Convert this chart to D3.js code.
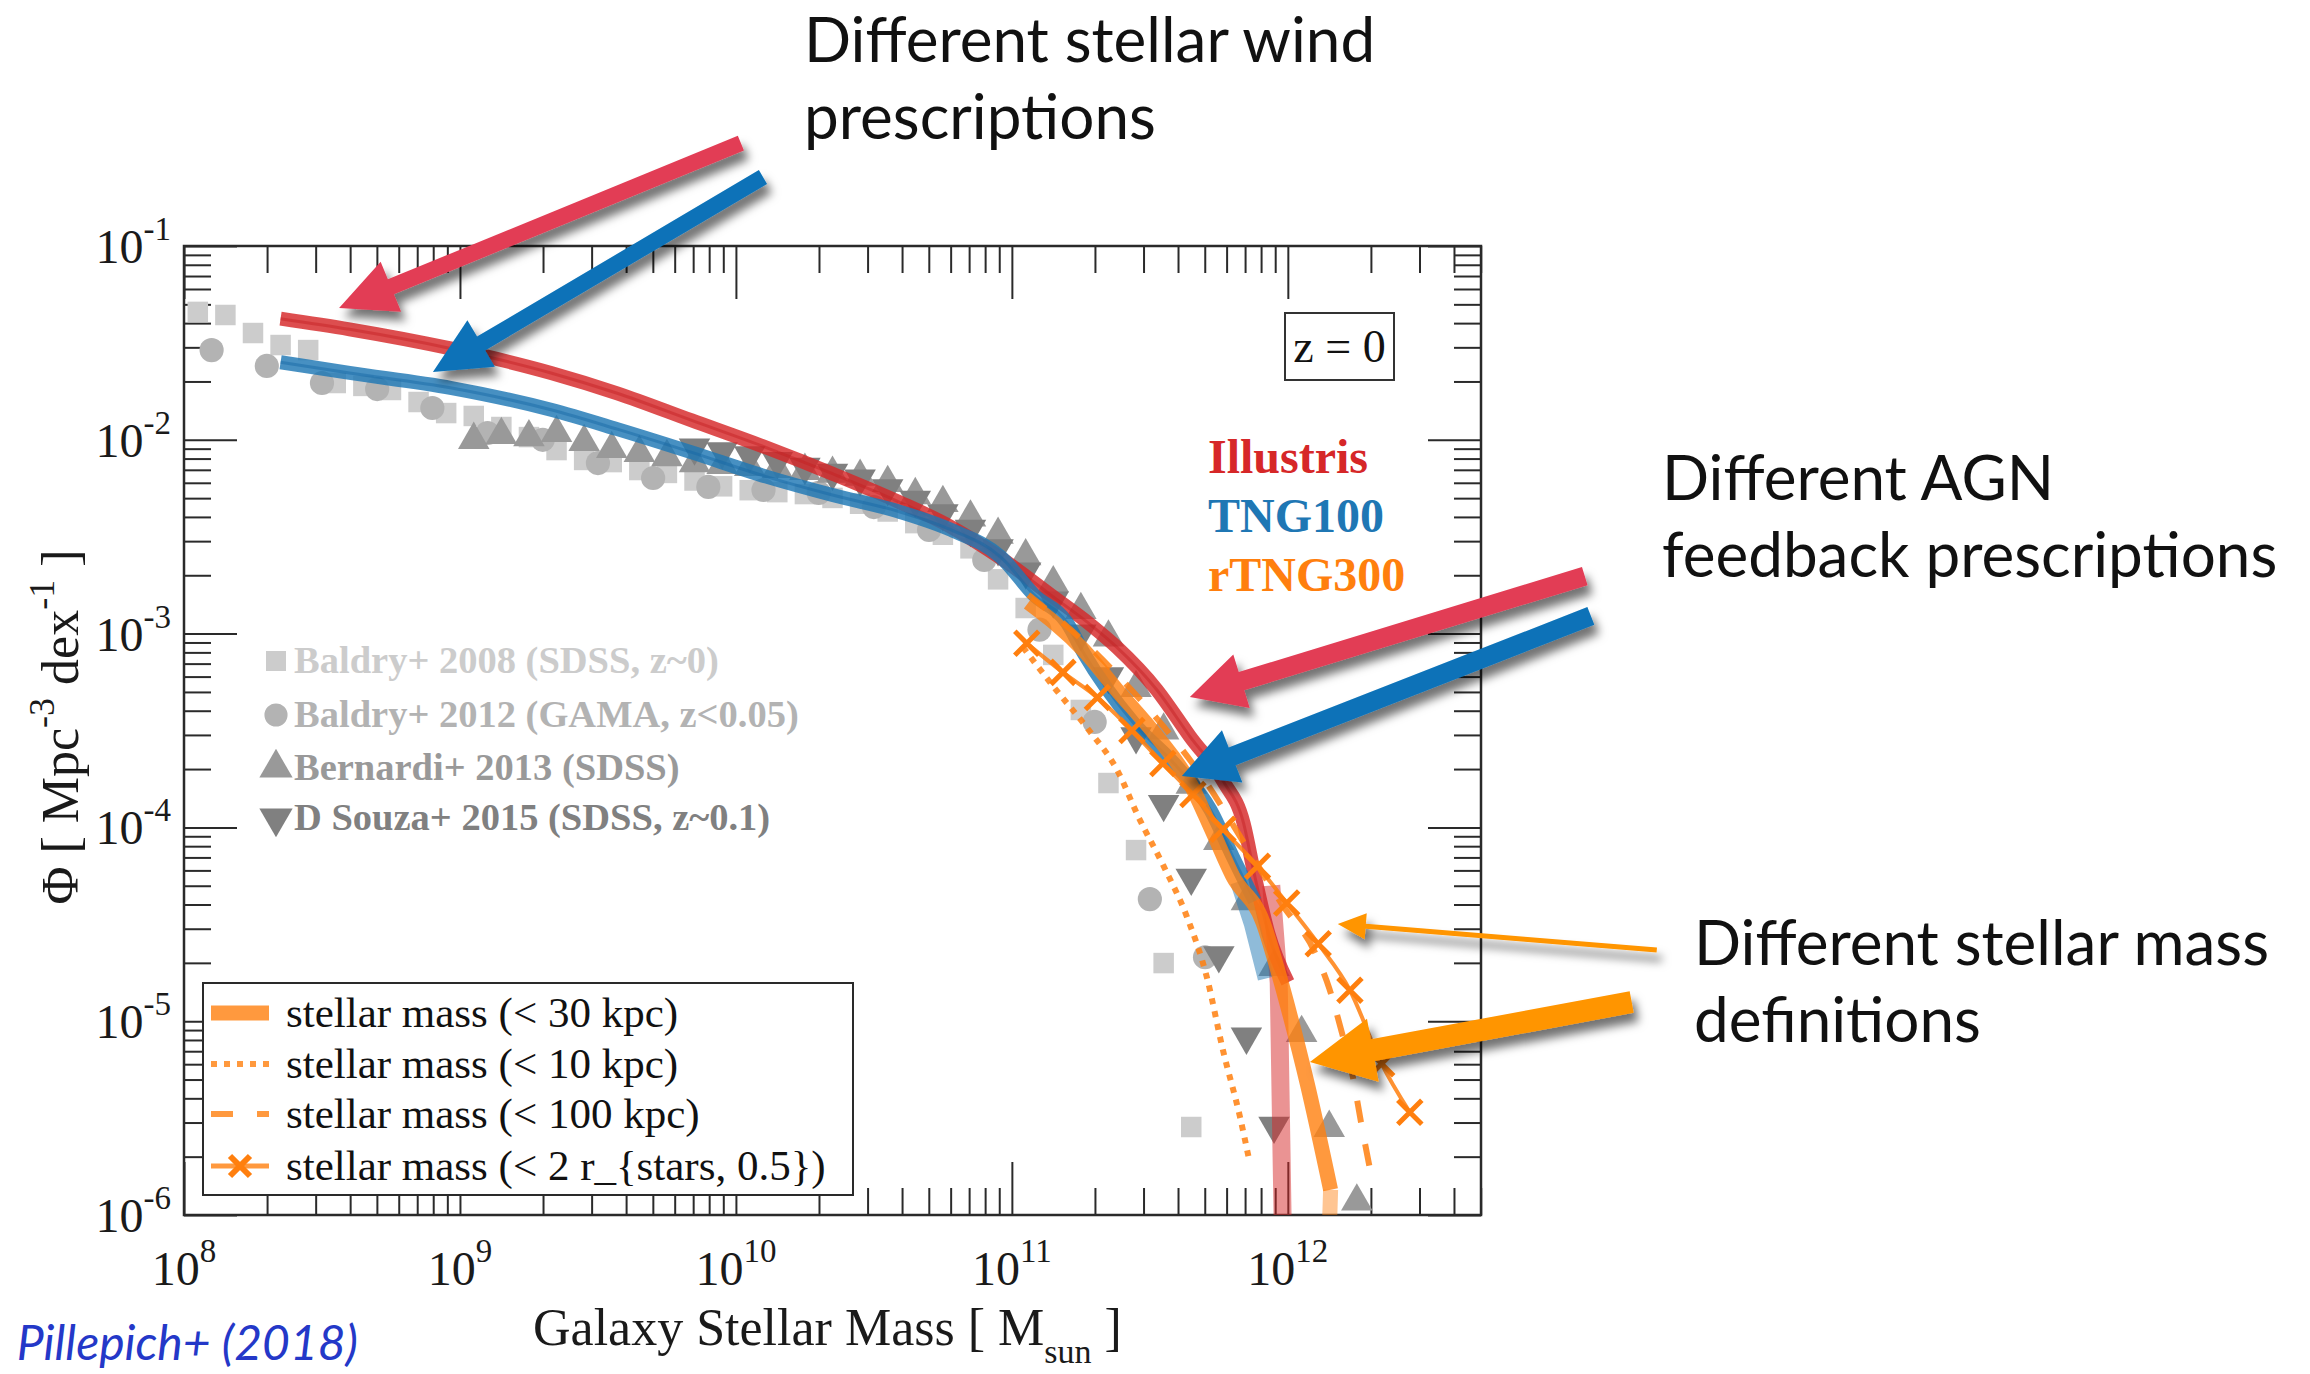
<!DOCTYPE html>
<html>
<head>
<meta charset="utf-8">
<script src="https://cdn.jsdelivr.net/npm/d3@7"></script>
<style>
  html, body { margin: 0; padding: 0; background: #ffffff; }
  svg { display: block; }
</style>
</head>
<body>
<svg id="chart" width="2310" height="1374"></svg>
<script>
// ---------------------------------------------------------------
// Galaxy stellar mass function at z = 0 (values as log10 M*, log10 Phi)
// ---------------------------------------------------------------

// Observations
const baldry08LogM = [8.05, 8.15, 8.25, 8.35, 8.45, 8.55, 8.65, 8.75, 8.85, 8.95,
  9.05, 9.15, 9.25, 9.35, 9.45, 9.55, 9.65, 9.75, 9.85, 9.95,
  10.05, 10.15, 10.25, 10.35, 10.45, 10.55, 10.65, 10.75, 10.85, 10.95,
  11.05, 11.15, 11.25, 11.35, 11.45, 11.55, 11.65];
const baldry08LogPhi = [-1.34, -1.356, -1.449, -1.511, -1.537, -1.707, -1.722, -1.743, -1.805, -1.862,
  -1.877, -1.934, -1.986, -2.053, -2.104, -2.115, -2.156, -2.171, -2.21, -2.24,
  -2.26, -2.27, -2.28, -2.30, -2.33, -2.37, -2.43, -2.49, -2.56, -2.72,
  -2.868, -3.11, -3.394, -3.771, -4.117, -4.70, -5.546];

const baldry12LogM = [8.1, 8.3, 8.5, 8.7, 8.9, 9.1, 9.3, 9.5, 9.7, 9.9,
  10.1, 10.3, 10.5, 10.7, 10.9, 11.1, 11.3, 11.5, 11.7];
const baldry12LogPhi = [-1.537, -1.619, -1.707, -1.738, -1.836, -1.965, -2.0, -2.12, -2.197, -2.243,
  -2.259, -2.274, -2.347, -2.465, -2.62, -2.98, -3.456, -4.37, -4.67];

const bernardi13LogM = [9.05, 9.15, 9.25, 9.35, 9.45, 9.55, 9.65, 9.75, 9.85, 9.95,
  10.05, 10.15, 10.25, 10.35, 10.45, 10.55, 10.65, 10.75, 10.85, 10.95,
  11.05, 11.15, 11.25, 11.35, 11.45, 11.55, 11.65, 11.75, 11.85, 11.95,
  12.05, 12.15, 12.25];
const bernardi13LogPhi = [-2.0, -1.975, -1.986, -1.965, -2.011, -2.047, -2.068, -2.089, -2.12, -2.13,
  -2.14, -2.15, -2.16, -2.175, -2.19, -2.223, -2.285, -2.326, -2.40, -2.49,
  -2.60, -2.74, -2.878, -3.02, -3.28, -3.50, -3.78, -4.07, -4.38, -4.72,
  -5.06, -5.55, -5.93];

const dsouza15LogM = [9.85, 9.95, 10.05, 10.15, 10.25, 10.35, 10.45, 10.55, 10.65, 10.75,
  10.85, 10.95, 11.05, 11.15, 11.25, 11.35, 11.45, 11.55, 11.65, 11.75,
  11.85, 11.95];
const dsouza15LogPhi = [-2.04, -2.06, -2.08, -2.11, -2.14, -2.17, -2.20, -2.25, -2.31, -2.38,
  -2.46, -2.56, -2.68, -2.83, -3.0, -3.22, -3.53, -3.88, -4.26, -4.66,
  -5.08, -5.54];

// Simulations
const illustrisLogM = [8.35, 8.6, 8.97, 9.33, 9.57, 9.84, 10.11, 10.35, 10.59, 10.78,
  10.96, 11.14, 11.29, 11.38, 11.525, 11.645, 11.765, 11.84, 11.88, 11.93, 12.0];
const illustrisLogPhi = [-1.375, -1.43, -1.53, -1.655, -1.76, -1.90, -2.04, -2.175, -2.32, -2.45,
  -2.61, -2.80, -2.96, -3.07, -3.29, -3.53, -3.76, -3.98, -4.25, -4.55, -4.80];
// poorly sampled high-mass end
const illustrisTailLogM = [11.94, 11.967, 11.982];
const illustrisTailLogPhi = [-4.30, -4.80, -6.10];

const tng100LogM = [8.35, 8.6, 8.97, 9.33, 9.57, 9.84, 10.11, 10.35, 10.59, 10.78,
  10.96, 11.08, 11.2, 11.26, 11.44, 11.6, 11.72, 11.80, 11.88];
const tng100LogPhi = [-1.60, -1.655, -1.733, -1.845, -1.945, -2.065, -2.19, -2.285, -2.37, -2.465,
  -2.605, -2.80, -2.945, -3.10, -3.46, -3.69, -3.91, -4.15, -4.38];
const tng100TailLogM = [11.82, 11.87, 11.92];
const tng100TailLogPhi = [-4.28, -4.50, -4.78];

// rTNG300 with different stellar mass apertures
const r30LogM = [11.06, 11.26, 11.38, 11.525, 11.645, 11.73, 11.80, 11.91, 11.96, 12.01, 12.07, 12.155];
const r30LogPhi = [-2.84, -3.085, -3.29, -3.53, -3.77, -4.03, -4.25, -4.49, -4.72, -4.98, -5.32, -5.87];
const r30TailLogM = [12.155, 12.15];
const r30TailLogPhi = [-5.87, -6.10];

const r10LogM = [11.04, 11.16, 11.28, 11.38, 11.46, 11.55, 11.634, 11.706, 11.765, 11.826, 11.862];
const r10LogPhi = [-3.07, -3.29, -3.50, -3.70, -3.95, -4.2, -4.46, -4.77, -5.15, -5.49, -5.73];

const r100LogM = [11.06, 11.26, 11.40, 11.55, 11.70, 11.85, 11.98, 12.10, 12.15, 12.196, 12.236, 12.265, 12.30];
const r100LogPhi = [-2.80, -3.04, -3.24, -3.48, -3.76, -4.10, -4.40, -4.65, -4.83, -5.06, -5.29, -5.52, -5.78];

const rHalfLogM = [11.054, 11.185, 11.31, 11.435, 11.547, 11.656, 11.765, 11.89, 11.996, 12.11, 12.225, 12.34, 12.442];
const rHalfLogPhi = [-3.05, -3.2, -3.33, -3.50, -3.67, -3.83, -4.01, -4.2, -4.39, -4.6, -4.84, -5.22, -5.47];

// Axis ticks
const massMajorExp = [8, 9, 10, 11, 12];
const phiMajorExp = [-1, -2, -3, -4, -5, -6];

// Labels
const obsLabels = ["Baldry+ 2008 (SDSS, z~0)", "Baldry+ 2012 (GAMA, z<0.05)", "Bernardi+ 2013 (SDSS)", "D Souza+ 2015 (SDSS, z~0.1)"];
const simLabels = ["Illustris", "TNG100", "rTNG300"];
const apertureLabels = ["stellar mass (< 30 kpc)", "stellar mass (< 10 kpc)", "stellar mass (< 100 kpc)", "stellar mass (< 2 r_{stars, 0.5})"];

// ---------------------------------------------------------------
const svg = d3.select("#chart");
const plot = { left: 184, right: 1481, top: 246, bottom: 1215 };
const serif = "'Liberation Serif', 'Times New Roman', serif";
const sans = "Lato, 'Open Sans', sans-serif";

const x = d3.scaleLog().domain([1e8, Math.pow(10, 12.7)]).range([plot.left, plot.right]);
const y = d3.scaleLog().domain([1e-6, 1e-1]).range([plot.bottom, plot.top]);

const pts = (lm, lp) => lm.map((m, i) => [Math.pow(10, m), Math.pow(10, lp[i])]);

const defs = svg.append("defs");
defs.append("clipPath").attr("id", "plotClip")
  .append("rect")
  .attr("x", plot.left).attr("y", plot.top)
  .attr("width", plot.right - plot.left).attr("height", plot.bottom - plot.top);

const shadow = defs.append("filter").attr("id", "arrowShadow")
  .attr("x", "-30%").attr("y", "-30%").attr("width", "160%").attr("height", "160%");
shadow.append("feDropShadow")
  .attr("dx", 5).attr("dy", 9).attr("stdDeviation", 5)
  .attr("flood-color", "#000").attr("flood-opacity", 0.55);

// ---- axes ----
function minorTicks(lo, hi) {
  const out = [];
  for (let e = Math.floor(lo); e <= Math.ceil(hi); e++) {
    for (let k = 2; k <= 9; k++) {
      const v = k * Math.pow(10, e);
      if (Math.log10(v) > lo + 1e-6 && Math.log10(v) < hi - 1e-6) out.push(v);
    }
  }
  return out;
}
const xMajor = massMajorExp.map(e => Math.pow(10, e));
const xMinor = minorTicks(8, 12.7);
const yMajor = phiMajorExp.map(e => Math.pow(10, e));
const yMinor = minorTicks(-6, -1);

const axisG = svg.append("g").attr("class", "axes");
const majorLen = 53, minorLen = 27;

function drawAxis(gen, transform) {
  const g = axisG.append("g").attr("transform", transform).call(gen);
  g.selectAll("path.domain").remove();
  g.selectAll("line").attr("stroke", "#2a2a2a").attr("stroke-width", 2);
  g.selectAll("text").remove();
}
[[d3.axisBottom, `translate(0,${plot.bottom})`, x, xMajor, xMinor],
 [d3.axisTop, `translate(0,${plot.top})`, x, xMajor, xMinor],
 [d3.axisLeft, `translate(${plot.left},0)`, y, yMajor, yMinor],
 [d3.axisRight, `translate(${plot.right},0)`, y, yMajor, yMinor]].forEach(([fn, tr, sc, maj, min]) => {
  drawAxis(fn(sc).tickValues(min).tickSize(-minorLen).tickSizeOuter(0), tr);
  drawAxis(fn(sc).tickValues(maj).tickSize(-majorLen).tickSizeOuter(0), tr);
});
axisG.append("rect")
  .attr("x", plot.left).attr("y", plot.top)
  .attr("width", plot.right - plot.left).attr("height", plot.bottom - plot.top)
  .attr("fill", "none").attr("stroke", "#2a2a2a").attr("stroke-width", 2.5);

// tick labels (10^n)
const tickLab = svg.append("g").attr("font-family", serif).attr("fill", "#1a1a1a");
massMajorExp.forEach(e => {
  const t = tickLab.append("text")
    .attr("x", x(Math.pow(10, e))).attr("y", 1285)
    .attr("text-anchor", "middle").attr("font-size", 48);
  t.append("tspan").text("10");
  t.append("tspan").attr("font-size", 33).attr("dy", -23).text(e);
});
phiMajorExp.forEach(e => {
  const t = tickLab.append("text")
    .attr("x", 171).attr("y", y(Math.pow(10, e)) + 17)
    .attr("text-anchor", "end").attr("font-size", 48);
  t.append("tspan").text("10");
  t.append("tspan").attr("font-size", 33).attr("dy", -23).text(e);
});

// axis titles
const xt = svg.append("text").attr("font-family", serif).attr("font-size", 52)
  .attr("fill", "#1a1a1a").attr("x", 533).attr("y", 1345);
xt.append("tspan").text("Galaxy Stellar Mass [ M");
xt.append("tspan").attr("font-size", 34).attr("dy", 18).text("sun");
xt.append("tspan").attr("dy", -18).text(" ]");

const yt = svg.append("text").attr("font-family", serif).attr("font-size", 52)
  .attr("fill", "#1a1a1a").attr("text-anchor", "middle")
  .attr("transform", "translate(78,727) rotate(-90)");
yt.append("tspan").text("\u03A6 [ Mpc");
yt.append("tspan").attr("font-size", 36).attr("dy", -24).text("-3");
yt.append("tspan").attr("dy", 24).text(" dex");
yt.append("tspan").attr("font-size", 36).attr("dy", -24).text("-1");
yt.append("tspan").attr("dy", 24).text(" ]");

// ---- data ----
const dataG = svg.append("g").attr("clip-path", "url(#plotClip)");

function drawSymbols(lm, lp, type, size, color, rotate) {
  dataG.append("g").selectAll("path")
    .data(pts(lm, lp)).join("path")
    .attr("d", d3.symbol().type(type).size(size))
    .attr("transform", d => `translate(${x(d[0])},${y(d[1])})${rotate ? " rotate(180)" : ""}`)
    .attr("fill", color);
}
drawSymbols(baldry08LogM, baldry08LogPhi, d3.symbolSquare, 420, "#cccccc");
drawSymbols(baldry12LogM, baldry12LogPhi, d3.symbolCircle, 460, "#b3b3b3");
drawSymbols(bernardi13LogM, bernardi13LogPhi, d3.symbolTriangle, 430, "#999999");
drawSymbols(dsouza15LogM, dsouza15LogPhi, d3.symbolTriangle, 430, "#808080", true);

const smooth = d3.line().x(d => x(d[0])).y(d => y(d[1])).curve(d3.curveMonotoneX);
const straight = d3.line().x(d => x(d[0])).y(d => y(d[1]));

function band(lm, lp, color, width, opacity, gen, extra) {
  const p = dataG.append("path")
    .attr("d", (gen || smooth)(pts(lm, lp)))
    .attr("fill", "none").attr("stroke", color)
    .attr("stroke-width", width).attr("stroke-opacity", opacity)
    .attr("stroke-linejoin", "round");
  if (extra) extra(p);
  return p;
}

// Illustris
band(illustrisTailLogM, illustrisTailLogPhi, "#d62728", 18, 0.5, straight, p => p.attr("stroke-linecap", "butt"));
band(illustrisLogM, illustrisLogPhi, "#d62728", 14, 0.82);
band(illustrisLogM, illustrisLogPhi, "#c41e22", 3, 0.45);
// TNG100
band(tng100TailLogM, tng100TailLogPhi, "#1f77b4", 16, 0.5, straight);
band(tng100LogM, tng100LogPhi, "#1f77b4", 14, 0.82);
band(tng100LogM, tng100LogPhi, "#1565a3", 3, 0.45);
// rTNG300 apertures
band(r30TailLogM, r30TailLogPhi, "#ff7f0e", 15, 0.45, straight);
band(r30LogM, r30LogPhi, "#ff7f0e", 15, 0.8, smooth, p => p.attr("stroke-linecap", "butt"));
band(r10LogM, r10LogPhi, "#ff7f0e", 6, 0.85, smooth, p => p.attr("stroke-dasharray", "6 7"));
band(r100LogM, r100LogPhi, "#ff7f0e", 6, 0.85, smooth, p => p.attr("stroke-dasharray", "22 22"));
band(rHalfLogM, rHalfLogPhi, "#ff7f0e", 4, 0.85, smooth);

const xMark = (s) => `M${-s},${-s}L${s},${s}M${-s},${s}L${s},${-s}`;
dataG.append("g").selectAll("path")
  .data(pts(rHalfLogM, rHalfLogPhi)).join("path")
  .attr("d", xMark(12))
  .attr("transform", d => `translate(${x(d[0])},${y(d[1])})`)
  .attr("stroke", "#ff7f0e").attr("stroke-width", 5).attr("fill", "none");

// ---- legends ----
const obsColors = ["#cccccc", "#b3b3b3", "#999999", "#808080"];
const obsSymbols = [d3.symbolSquare, d3.symbolCircle, d3.symbolTriangle, d3.symbolTriangle];
const obsSizes = [400, 420, 480, 480];
const obsBase = [673, 727, 780, 830];
const obsG = svg.append("g");
obsLabels.forEach((lab, i) => {
  obsG.append("path")
    .attr("d", d3.symbol().type(obsSymbols[i]).size(obsSizes[i]))
    .attr("transform", `translate(276,${obsBase[i] - 12})${i === 3 ? " rotate(180)" : ""}`)
    .attr("fill", obsColors[i]);
  obsG.append("text")
    .attr("x", 294).attr("y", obsBase[i])
    .attr("font-family", serif).attr("font-weight", "bold").attr("font-size", 38.5)
    .attr("fill", obsColors[i]).text(lab);
});

const simColors = ["#d62728", "#1f77b4", "#ff7f0e"];
const simBase = [473, 532, 591];
simLabels.forEach((lab, i) => {
  svg.append("text")
    .attr("x", 1208).attr("y", simBase[i])
    .attr("font-family", serif).attr("font-weight", "bold").attr("font-size", 48)
    .attr("fill", simColors[i]).text(lab);
});

// redshift box
svg.append("rect").attr("x", 1285).attr("y", 313).attr("width", 109).attr("height", 67)
  .attr("fill", "#fff").attr("stroke", "#333").attr("stroke-width", 2);
svg.append("text").attr("x", 1339.5).attr("y", 362).attr("text-anchor", "middle")
  .attr("font-family", serif).attr("font-size", 46).attr("fill", "#111").text("z = 0");

// aperture legend box
const legG = svg.append("g");
legG.append("rect").attr("x", 203).attr("y", 983).attr("width", 650).attr("height", 212)
  .attr("fill", "#fff").attr("stroke", "#2a2a2a").attr("stroke-width", 2);
const legBase = [1027, 1078, 1128, 1180];
legBase.forEach((b, i) => {
  const yy = b - 14;
  const ln = legG.append("line").attr("x1", 211).attr("x2", 269).attr("y1", yy).attr("y2", yy)
    .attr("stroke", "#ff7f0e").attr("stroke-opacity", 0.8);
  if (i === 0) ln.attr("stroke-width", 15);
  if (i === 1) ln.attr("stroke-width", 6).attr("stroke-dasharray", "6 7");
  if (i === 2) ln.attr("stroke-width", 6).attr("stroke-dasharray", "22 24");
  if (i === 3) {
    ln.attr("stroke-width", 5);
    legG.append("path").attr("d", xMark(10)).attr("transform", `translate(240,${yy})`)
      .attr("stroke", "#ff7f0e").attr("stroke-width", 6).attr("fill", "none");
  }
  legG.append("text").attr("x", 286).attr("y", b)
    .attr("font-family", serif).attr("font-size", 43).attr("fill", "#111")
    .text(apertureLabels[i]);
});

// ---- annotations ----
const notes = [
  { lines: ["Different stellar wind", "prescriptions"], x: 804, y: 62 },
  { lines: ["Different AGN", "feedback prescriptions"], x: 1662, y: 500 },
  { lines: ["Different stellar mass", "definitions"], x: 1694, y: 965 }
];
notes.forEach(n => {
  n.lines.forEach((t, j) => {
    svg.append("text").attr("x", n.x).attr("y", n.y + j * 77)
      .attr("font-family", sans).attr("font-size", 62).attr("fill", "#111").text(t);
  });
});

svg.append("text").attr("x", 358).attr("y", 1360).attr("text-anchor", "end")
  .attr("font-family", sans).attr("font-style", "italic").attr("font-size", 48)
  .attr("fill", "#2438c8").text("Pillepich+ (2018)");

// block arrows: tail and tip placed in (log M, log Phi) space
const arrows = [
  { tail: [10.018, -0.469], tip: [8.562, -1.32], shaft: 16, headW: 54, headL: 56, color: "#e23d55" },
  { tail: [10.098, -0.644], tip: [8.902, -1.65], shaft: 16, headW: 54, headL: 56, color: "#0a72b8" },
  { tail: [13.076, -2.703], tip: [11.645, -3.327], shaft: 19, headW: 56, headL: 54, color: "#e23d55" },
  { tail: [13.098, -2.909], tip: [11.616, -3.735], shaft: 19, headW: 56, headL: 54, color: "#0a72b8" },
  { tail: [13.246, -4.901], tip: [12.08, -5.21], shaft: 22, headW: 64, headL: 64, color: "#ff9500" },
  { tail: [13.337, -4.633], tip: [12.181, -4.498], shaft: 5, headW: 26, headL: 28, color: "#ff9500" }
];
const arrowG = svg.append("g").attr("filter", "url(#arrowShadow)");
arrows.forEach(a => {
  const tx = x(Math.pow(10, a.tail[0])), ty = y(Math.pow(10, a.tail[1]));
  const hx = x(Math.pow(10, a.tip[0])), hy = y(Math.pow(10, a.tip[1]));
  const dx = hx - tx, dy = hy - ty, L = Math.hypot(dx, dy);
  const ux = dx / L, uy = dy / L, nx = -uy, ny = ux;
  const bx = hx - ux * a.headL, by = hy - uy * a.headL;
  const s = a.shaft / 2, h = a.headW / 2;
  const poly = [
    [tx + nx * s, ty + ny * s], [bx + nx * s, by + ny * s], [bx + nx * h, by + ny * h],
    [hx, hy],
    [bx - nx * h, by - ny * h], [bx - nx * s, by - ny * s], [tx - nx * s, ty - ny * s]
  ];
  arrowG.append("path").attr("d", "M" + poly.map(p => p.join(",")).join("L") + "Z")
    .attr("fill", a.color);
});
</script>
</body>
</html>
